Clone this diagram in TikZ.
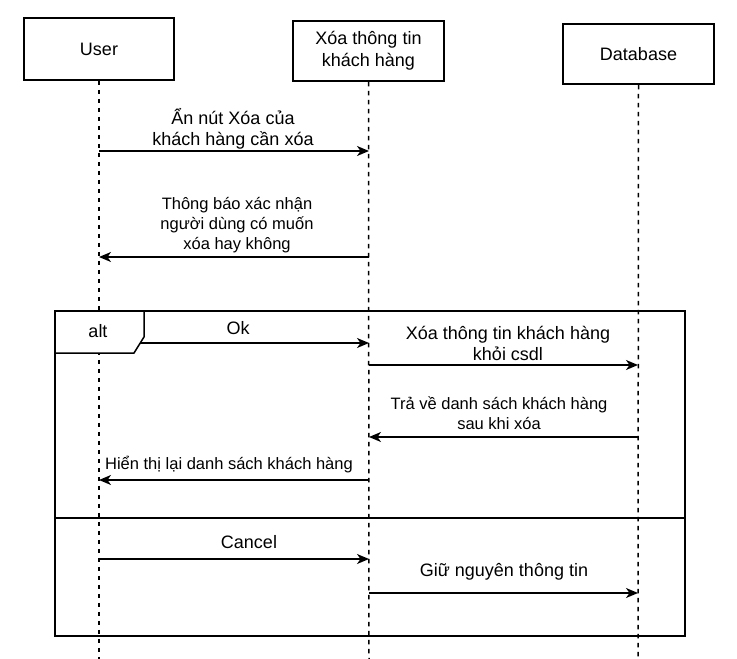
\documentclass[tikz,border=0pt]{standalone}
\usepackage{fontspec}
\setmainfont{Liberation Sans}
\usetikzlibrary{arrows.meta}
\begin{document}
\begin{tikzpicture}[x=1pt,y=-1pt,
  actor/.style={draw,line width=1.5pt,minimum width=150pt,inner sep=0pt,font=\fontsize{18}{21.6}\selectfont,align=center},
  life/.style={line width=1.5pt,dash pattern=on 4.5pt off 4.5pt},
  msg/.style={line width=1.5pt,-{Stealth[length=12pt,width=10pt,inset=3.5pt]}},
  big/.style={inner sep=0pt,align=center,font=\fontsize{18}{21}\selectfont},
  small/.style={inner sep=0pt,align=center,font=\fontsize{16.5}{20}\selectfont},
  frame/.style={draw,line width=1.5pt}]
\useasboundingbox (0,0) rectangle (737,659);
% actors
\node[actor,minimum height=62pt] (user) at (99,49) {User};
\node[actor,minimum height=60pt,minimum width=151pt] (xoa) at (368.5,51) {Xóa thông tin\\khách hàng};
\node[actor,minimum height=60pt,minimum width=151pt] (db) at (638.5,54) {Database};
\coordinate (userEnd) at (99,659);
\coordinate (xoaEnd) at (369,659);
\coordinate (dbEnd) at (638,659);
\draw[life] (user.south) -- (userEnd);
\draw[life] (xoa.south) -- (xoaEnd);
\draw[life] (db.south) -- (dbEnd);
% message points
\coordinate (u1) at (99,151); \coordinate (x1) at (369,151);
\coordinate (x2) at (369,257); \coordinate (u2) at (99,257);
\coordinate (u3) at (99,343); \coordinate (x3) at (369,343);
\coordinate (x4) at (369,365); \coordinate (d4) at (638,365);
\coordinate (d5) at (638,437); \coordinate (x5) at (369,437);
\coordinate (x6) at (369,480); \coordinate (u6) at (99,480);
\coordinate (u7) at (99,559); \coordinate (x7) at (369,559);
\coordinate (x8) at (369,593); \coordinate (d8) at (638,593);
\draw[msg] (u1) -- (x1);
\draw[msg] (x2) -- (u2);
\draw[msg] (u3) -- (x3);
\draw[msg] (x4) -- (d4);
\draw[msg] (d5) -- (x5);
\draw[msg] (x6) -- (u6);
\draw[msg] (u7) -- (x7);
\draw[msg] (x8) -- (d8);
% alt frame
\coordinate (tabO) at (54,310);
\coordinate (tabA) at (144,310);
\coordinate (tabB) at (144,337);
\coordinate (tabC) at (134,353);
\coordinate (tabD) at (54,353);
\fill[white] (tabO) -- (tabA) -- (tabB) -- (tabC) -- (tabD) -- cycle;
\draw[line width=1.5pt] (tabA) -- (tabB) -- (tabC) -- (tabD);
\node[frame,minimum width=630pt,minimum height=325pt,inner sep=0pt,anchor=north west] (alt) at (tabO) {};
\coordinate (divL) at (54,518);
\coordinate (divR) at (684,518);
\draw[line width=1.5pt] (divL) -- (divR);
\node[big] (altlbl) at (98,331) {alt};
% labels
\node[big] (l1) at (233,129) {Ẩn nút Xóa của\\khách hàng cần xóa};
\node[small] (l2) at (237,225) {Thông báo xác nhận\\người dùng có muốn\\xóa hay không};
\node[big] (l3) at (238,328) {Ok};
\node[big] (l4) at (508,343) {Xóa thông tin khách hàng\\khỏi csdl};
\node[small] (l5) at (499,413) {Trả về danh sách khách hàng\\sau khi xóa};
\node[small] (l6) at (229,465) {Hiển thị lại danh sách khách hàng};
\node[big] (l7) at (249,542) {Cancel};
\node[big] (l8) at (504,572) {Giữ nguyên thông tin};
\end{tikzpicture}
\end{document}
